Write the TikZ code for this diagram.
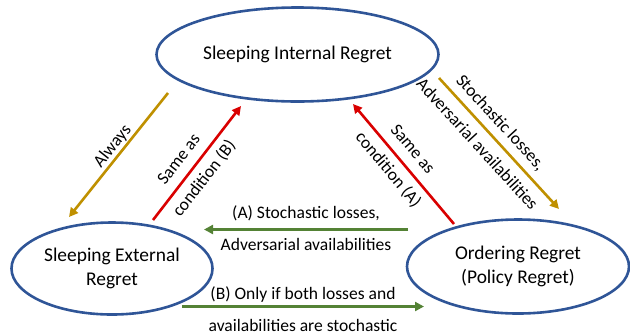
\documentclass[tikz,border=0pt]{standalone}
\usepackage{fontspec}
\setmainfont{Carlito}
\usetikzlibrary{arrows.meta,shapes.geometric}
\definecolor{ellblue}{HTML}{2F5597}
\definecolor{goldc}{HTML}{BF9000}
\definecolor{redc}{HTML}{D90000}
\definecolor{greenc}{HTML}{548235}
\begin{document}
\begin{tikzpicture}[x=1bp,y=-1bp,
  regnode/.style={ellipse, draw=ellblue, text=black, line width=2.6bp, inner sep=0pt, align=center, font=\fontsize{19.5}{24}\selectfont},
  conn/.style={line width=2.6bp, -{Triangle[length=9bp,width=9bp]}},
  lbl/.style={text=black, font=\fontsize{17.6}{32}\selectfont, align=center, sloped, inner sep=1bp}]
\useasboundingbox (0,0) rectangle (630,335);
\node[regnode, minimum width=282bp, minimum height=94bp] (sir) at (297.5,54.5) {Sleeping Internal Regret};
\node[regnode, minimum width=201bp, minimum height=92bp] (ser) at (112,268.5) {Sleeping External\\Regret};
\node[regnode, minimum width=222bp, minimum height=94bp] (ord) at (518,266.5) {Ordering Regret\\(Policy Regret)};
\coordinate (a1s) at (168,93);
\coordinate (a1e) at (69,217);
\coordinate (rbs) at (153,220);
\coordinate (rbe) at (241,106);
\coordinate (ras) at (454,224);
\coordinate (rae) at (353,104);
\coordinate (g2s) at (439,78);
\coordinate (g2e) at (559,209);
\coordinate (gas) at (408,229.5);
\coordinate (gae) at (204,229.5);
\coordinate (gbs) at (182,306.5);
\coordinate (gbe) at (424,306.5);
\draw[conn, goldc] (a1s) -- node[lbl, above, pos=0.48] (lal) {Always} (a1e);
\draw[conn, redc] (rbs) -- node[lbl, pos=0.445] (lrb) {Same as\\condition (B)} (rbe);
\draw[conn, redc] (ras) -- node[lbl, pos=0.535] (lra) {Same as\\condition (A)} (rae);
\draw[conn, goldc] (g2s) -- node[lbl, pos=0.42] (lg2) {Stochastic losses,\\Adversarial availabilities} (g2e);
\draw[conn, greenc] (gas) -- node[lbl, pos=0.5, yshift=1bp] (lga) {(A) Stochastic losses,\\Adversarial availabilities} (gae);
\draw[conn, greenc] (gbs) -- node[lbl, pos=0.5, yshift=-2.5bp] (lgb) {(B) Only if both losses and\\availabilities are stochastic} (gbe);
\end{tikzpicture}
\end{document}
